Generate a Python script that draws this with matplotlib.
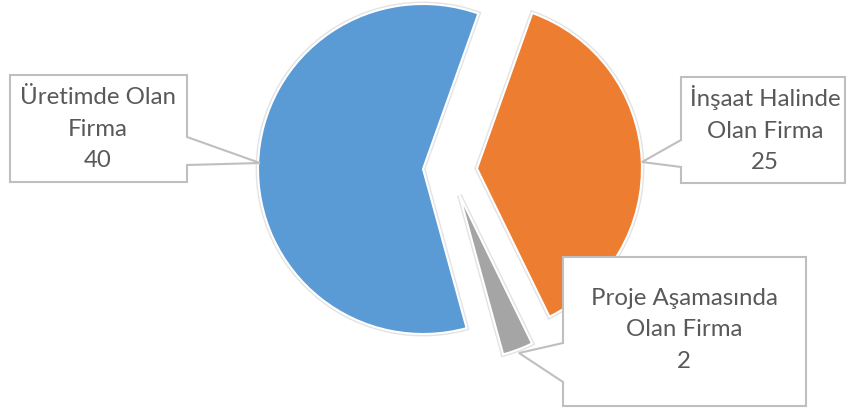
import matplotlib
matplotlib.use("Agg")
import matplotlib.pyplot as plt
import matplotlib.patheffects as pe
from matplotlib.patches import Polygon

# data (order as drawn clockwise, starting at the slice right of 12 o'clock)
labels = ["İnşaat Halinde\nOlan Firma", "Proje Aşamasında\nOlan Firma", "Üretimde Olan\nFirma"]
values = [25, 2, 40]
colors = ["#ED7D31", "#A5A5A5", "#5B9BD5"]

W, H = 847, 409
plt.rcParams['font.family'] = ['Lato', 'DejaVu Sans']

fig = plt.figure(figsize=(W / 100, H / 100), dpi=100)
ax = fig.add_axes([0, 0, 1, 1])

def py(y):
    # pixel row -> data y (y up)
    return H - y

# explode is in data units here (radius is in pixels)
wedges, _ = ax.pie(values, colors=colors, startangle=70.4, counterclock=False,
                   explode=[27] * len(values), radius=165, center=(450, py(170)),
                   wedgeprops=dict(edgecolor="white", linewidth=1.5))
for w in wedges:
    w.set_path_effects([pe.withStroke(linewidth=3.5, foreground="#e3e3e3")])

ax.set_xlim(0, W)
ax.set_ylim(0, H)
ax.set_aspect("equal")
ax.axis("off")

# callout boxes: (left, top, right, bottom), pointer (attach1, tip, attach2), text centre
callouts = [
    dict(box=(10, 75, 187, 182), side="right", ptr=((187, 137), (260, 163), (187, 165)),
         txt=(98, 129)),
    dict(box=(681, 77, 845, 183), side="left", ptr=((681, 140), (642, 162), (681, 167)),
         txt=(765, 129)),
    dict(box=(563, 257, 806, 406), side="left", ptr=((563, 343), (519, 353), (563, 382)),
         txt=(684, 330)),
]
order = [2, 0, 1]

for c, i in zip(callouts, order):
    l, t, r, b = c["box"]
    a1, tip, a2 = c["ptr"]
    if c["side"] == "right":
        pts = [(l, t), (r, t), a1, tip, a2, (r, b), (l, b)]
    else:
        pts = [(l, t), (r, t), (r, b), (l, b), a2, tip, a1]
    pts = [(x, py(y)) for x, y in pts]
    ax.add_patch(Polygon(pts, closed=True, facecolor="white", edgecolor="#BFBFBF",
                         linewidth=1.5, zorder=5))
    ax.text(c["txt"][0], py(c["txt"][1]), f"{labels[i]}\n{values[i]}", ha="center",
            va="center", ma="center", fontsize=17.3, color="#595959", linespacing=1.6,
            zorder=6)

fig.savefig("out.png", dpi=100)
